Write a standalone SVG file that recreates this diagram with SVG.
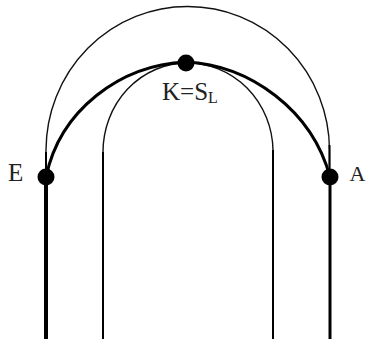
<svg xmlns="http://www.w3.org/2000/svg" width="366" height="342" viewBox="0 0 366 342">
<style>
.thin{fill:none;stroke:#111;stroke-width:1.4}
.post{fill:none;stroke:#000;stroke-width:2}
.thick{fill:none;stroke:#000;stroke-width:3}
.pt{fill:#000}
text{font-family:"Liberation Serif",serif;font-size:25px;fill:#222}
</style>
<rect width="366" height="342" fill="#fff"/>
<g id="connectors">
<path class="thin" d="M46 170V150A141.500 144 0 0 1 188 6.500A141.500 144 0 0 1 329.500 150V170"/>
<path class="post" d="M46 152V170M329.500 145V170"/>
<path class="thin" d="M103 152A84 89 0 0 1 187 63A85 89 0 0 1 273 150"/>
<path class="post" d="M103 152V339M273 150V339"/>
<path class="thick" d="M46 177C60 110 120 65 186 62C250 65 312 110 330 177"/>
<path class="thick" d="M46 180V339" style="stroke-width:4"/>
<path class="thick" d="M330 180V339"/>
</g>
<g id="node-E"><circle class="pt" cx="46" cy="177" r="8.500"/><text x="8" y="181">E</text></g>
<g id="node-K"><circle class="pt" cx="186" cy="63" r="8.500"/><text x="162" y="100">K=S<tspan font-size="16" dy="3">L</tspan></text></g>
<g id="node-A"><circle class="pt" cx="330" cy="177" r="8.500"/><text x="349.500" y="181" style="font-size:22px">A</text></g>
</svg>
